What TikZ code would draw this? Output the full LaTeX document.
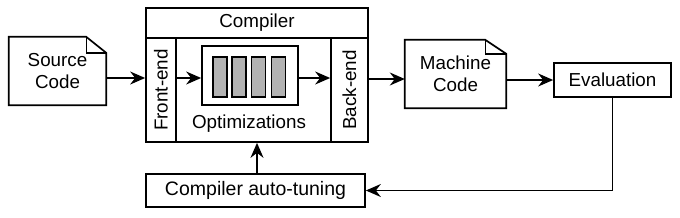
\documentclass[tikz,border=0pt]{standalone}
\usepackage{fontspec}
\setmainfont{Liberation Sans}
\usetikzlibrary{arrows.meta,calc}
\begin{document}
\begin{tikzpicture}[x=1pt,y=-1pt,
  box/.style={draw,line width=1.7pt,inner sep=0pt},
  lbl/.style={font=\fontsize{18.8}{21.5}\selectfont,align=center,inner sep=0pt},
  big/.style={font=\fontsize{19.5}{23}\selectfont,align=center,inner sep=0pt},
  arr/.style={line width=1.7pt,-{Stealth[length=15pt,width=13pt,inset=5pt]}},
  bar/.style={draw,line width=1.4pt,fill=black!30,minimum width=14pt,minimum height=40pt,inner sep=0pt}
]
\useasboundingbox (0,0) rectangle (680,217);
% Source code document
\node[lbl,minimum width=97pt,minimum height=68pt] (src) at (57.5,71) {Source\\Code};
\draw[line width=1.7pt,line join=miter] (src.north west) -- ([xshift=-20pt]src.north east) -- ([yshift=-16pt]src.north east) -- (src.south east) -- (src.south west) -- cycle;
\draw[line width=1.4pt] ([xshift=-20pt]src.north east) -- ([xshift=-20pt,yshift=-16pt]src.north east) -- ([yshift=-16pt]src.north east);
% Compiler
\node[box,minimum width=222pt,minimum height=134pt] (comp) at (257,75) {};
\node[box,minimum width=222pt,minimum height=30pt] (title) at (257,23) {};
\node[lbl] (titletext) at (title) {Compiler};
\node[box,minimum width=30pt,minimum height=104pt] (fe) at (161,90) {};
\node[lbl,rotate=90] (fetext) at (fe) {Front-end};
\node[box,minimum width=37pt,minimum height=104pt] (be) at (349.5,90) {};
\node[lbl,rotate=90] (betext) at (be) {Back-end};
\node[box,minimum width=96pt,minimum height=59pt] (opt) at (250,75.5) {};
\node[bar] (b1) at (220,77) {};
\node[bar] (b2) at (239,77) {};
\node[bar] (b3) at (258.5,77) {};
\node[bar] (b4) at (278.5,77) {};
\node[lbl] (opttext) at (249,124) {Optimizations};
% Machine code document
\node[lbl,minimum width=101pt,minimum height=68pt] (mc) at (455.5,74) {Machine\\Code};
\draw[line width=1.7pt,line join=miter] (mc.north west) -- ([xshift=-21pt]mc.north east) -- ([yshift=-14pt]mc.north east) -- (mc.south east) -- (mc.south west) -- cycle;
\draw[line width=1.4pt] ([xshift=-21pt]mc.north east) -- ([xshift=-21pt,yshift=-14pt]mc.north east) -- ([yshift=-14pt]mc.north east);
% Evaluation
\node[box,lbl,draw,line width=1.7pt,minimum width=117pt,minimum height=34pt] (ev) at (612.5,80) {Evaluation};
% Auto-tuning
\node[box,big,draw,line width=1.7pt,minimum width=219pt,minimum height=33pt] (at) at (255.5,190.5) {Compiler auto-tuning};
% Connectors
\draw[arr] ([yshift=-7pt]src.east) -- (fe.west |- 0,78);
\draw[arr] (fe.east |- 0,78) -- (opt.west |- 0,78);
\draw[arr] (opt.east |- 0,78) -- (be.west |- 0,78);
\draw[arr] (be.east |- 0,79) -- (mc.west |- 0,79);
\draw[arr] (mc.east |- 0,80) -- (ev.west);
\draw[arr] (ev.south) -- (ev.south |- at.east) -- (at.east);
\draw[arr] (at.north -| 257,0) -- (comp.south -| 257,0);
\end{tikzpicture}
\end{document}
